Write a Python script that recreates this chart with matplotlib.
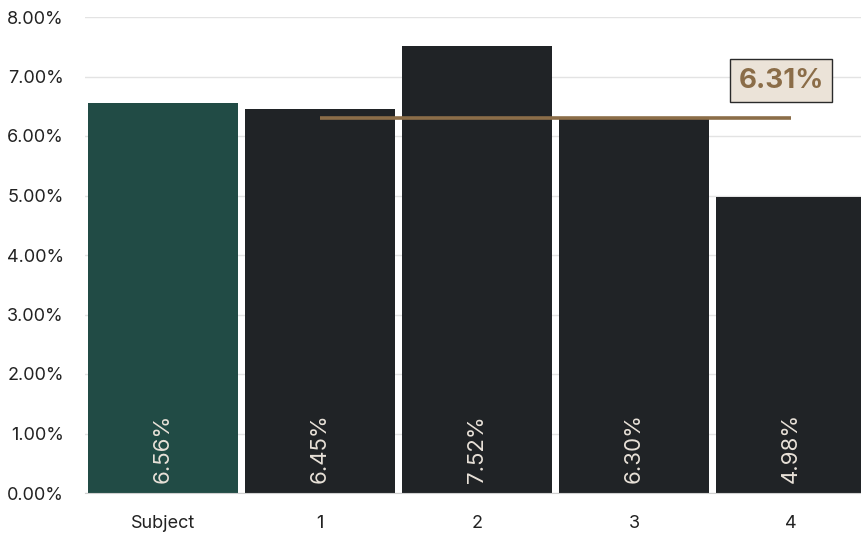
import matplotlib
matplotlib.use("Agg")
import matplotlib.pyplot as plt
from matplotlib.ticker import FuncFormatter, MultipleLocator

plt.rcParams['font.family'] = ['Inter', 'DejaVu Sans']

categories = ["Subject", "1", "2", "3", "4"]
values = [6.56, 6.45, 7.52, 6.30, 4.98]
average = 6.31
avg_label = "6.31%"

subject_color = "#214b45"
peer_color = "#202326"
avg_color = "#8b6d48"
label_color = "#e8e1d8"

fig = plt.figure(figsize=(8.61, 5.37), dpi=100)
ax = fig.add_axes([84.5 / 861, 44 / 537, 785 / 861, 476 / 537])

x = list(range(len(categories)))
colors = [subject_color] + [peer_color] * (len(categories) - 1)
ax.bar(x, values, width=0.95, color=colors, zorder=3)

for xi, v in zip(x, values):
    ax.text(xi, 0.17, f"{v:.2f}%", rotation=90, ha="center", va="bottom",
            color=label_color, fontsize=16, zorder=4)

# peer average line spanning the peer bars
ax.plot([x[1], x[-1]], [average, average], color=avg_color, lw=2.6,
        solid_capstyle="butt", zorder=5)
ax.text(x[-1] - 0.064, average + 0.62, avg_label, ha="center", va="center",
        fontsize=20, fontweight="bold", color=avg_color, zorder=6,
        bbox=dict(boxstyle="square,pad=0.3", facecolor="#ebe3d8",
                  edgecolor="#2a2a2a", linewidth=1))

ax.set_xlim(-0.5, len(categories) - 0.5)
ax.set_ylim(0, 8)
ax.yaxis.set_major_locator(MultipleLocator(1))
ax.yaxis.set_major_formatter(FuncFormatter(lambda v, _: f"{v:.2f}%"))
ax.set_xticks(x)
ax.set_xticklabels(categories)
ax.tick_params(axis="both", length=0, labelsize=13, colors="#222222")
ax.tick_params(axis="y", pad=15)
ax.tick_params(axis="x", pad=16)

ax.grid(axis="y", color="#e3e3e3", lw=1, zorder=0)
for s in ["top", "right", "left"]:
    ax.spines[s].set_visible(False)
ax.spines["bottom"].set_color("#d0d0d0")
ax.spines["bottom"].set_zorder(4)

fig.savefig("out.png", dpi=100)
